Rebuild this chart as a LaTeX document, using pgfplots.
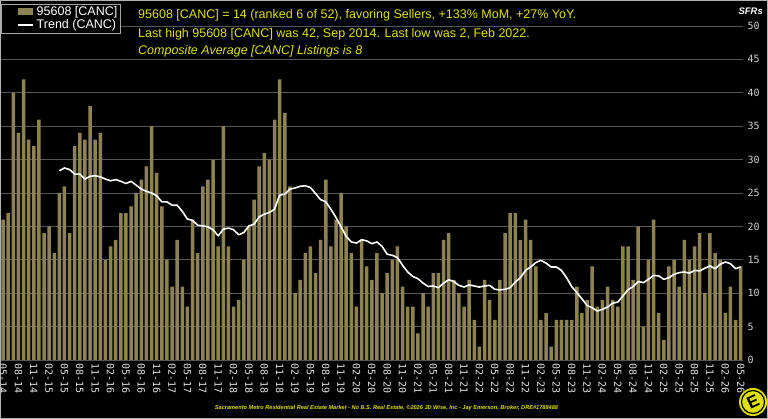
\documentclass[border=0pt]{standalone}
\usepackage{fontspec}
\setmainfont{Liberation Sans}
\setmonofont{DejaVu Sans Mono}
\usepackage{pgfplots}
\pgfplotsset{compat=1.18}
\definecolor{barcol}{RGB}{140,130,82}
\definecolor{ttl}{RGB}{225,225,0}
\definecolor{gridc}{RGB}{85,85,85}
\begin{document}
\begin{tikzpicture}[x=1pt,y=1pt]
\fill[black] (0,0) rectangle (768,419);
\begin{axis}[
  at={(0pt,59pt)}, anchor=south west,
  scale only axis, width=743pt, height=334pt,
  xmin=0.41, xmax=145.45, ymin=0, ymax=50,
  axis line style={draw=none},
  major tick length=0pt,
  ymajorgrids, grid style={gridc, line width=0.9pt},
  ytick={0,5,...,50},
  yticklabel pos=right,
  /pgf/number format/assume math mode=true,
  yticklabel style={font=\ttfamily\fontsize{10}{10}\selectfont, text=gray!35, xshift=1pt},
  xtick={1,4,...,145},
  xticklabels={05-14,08-14,11-14,02-15,05-15,08-15,11-15,02-16,05-16,08-16,11-16,02-17,05-17,08-17,11-17,02-18,05-18,08-18,11-18,02-19,05-19,08-19,11-19,02-20,05-20,08-20,11-20,02-21,05-21,08-21,11-21,02-22,05-22,08-22,11-22,02-23,05-23,08-23,11-23,02-24,05-24,08-24,11-24,02-25,05-25,08-25,11-25,02-26,05-26},
  xticklabel style={rotate=-90, anchor=west, font=\ttfamily\fontsize{10}{10}\selectfont, text=white!90!black},
  legend style={at={(axis description cs:0.0013,1.0659)}, anchor=north west, fill=black, draw=gray!70, text=white, font=\fontsize{12.5}{13}\selectfont, inner xsep=1pt, inner ysep=0.5pt, row sep=-1.5pt, cells={anchor=west}, column sep=1pt},
  clip=false,
]
\addplot[ybar, bar width=3.5pt, fill=barcol, draw=none,
  legend image code/.code={\path (0pt,0pt); \fill[barcol] (15pt,-3pt) rectangle (30pt,4pt);}]
coordinates {
(1,21)(2,22)(3,40)(4,34)(5,42)(6,33)(7,32)(8,36)(9,19)(10,20)(11,16)(12,25)(13,26)(14,19)(15,32)(16,34)(17,33)(18,38)(19,33)(20,34)(21,15)(22,17)(23,18)(24,22)(25,22)(26,23)(27,25)(28,27)(29,29)
(30,35)(31,28)(32,23)(33,15)(34,11)(35,18)(36,11)(37,8)(38,21)(39,16)(40,26)(41,27)(42,30)(43,17)(44,35)(45,17)(46,8)(47,9)(48,15)(49,20)(50,24)(51,29)(52,31)(53,30)(54,36)(55,42)(56,37)(57,26)(58,10)
(59,12)(60,16)(61,17)(62,13)(63,18)(64,27)(65,17)(66,21)(67,25)(68,20)(69,16)(70,8)(71,18)(72,14)(73,12)(74,16)(75,10)(76,13)(77,15)(78,17)(79,11)(80,8)(81,8)(82,4)(83,10)(84,8)(85,13)(86,13)
(87,18)(88,19)(89,12)(90,10)(91,8)(92,12)(93,6)(94,2)(95,12)(96,9)(97,6)(98,12)(99,19)(100,22)(101,22)(102,18)(103,21)(104,18)(105,14)(106,6)(107,7)(108,2)(109,6)(110,6)(111,6)(112,6)(113,11)
(114,7)(115,9)(116,14)(117,8)(118,9)(119,11)(120,9)(121,8)(122,17)(123,17)(124,12)(125,20)(126,5)(127,15)(128,21)(129,7)(130,3)(131,14)(132,15)(133,11)(134,18)(135,15)(136,17)(137,19)(138,10)(139,19)(140,16)(141,15)(142,7)(143,11)(144,6)(145,14)
};
\addlegendentry{95608 [CANC]}
\addplot[white, line width=1.6pt, line join=round,
  legend image code/.code={\path (0pt,0pt); \draw[white, line width=1.5pt] (15pt,0pt) -- (30pt,0pt);}]
coordinates {
(12,28.33)(13,28.75)(14,28.50)(15,27.83)(16,27.83)(17,27.08)(18,27.50)(19,27.58)(20,27.42)(21,27.08)(22,26.83)(23,27.00)(24,26.75)(25,26.42)(26,26.75)(27,26.17)(28,25.58)(29,25.25)(30,25.00)(31,24.58)(32,23.67)(33,23.67)(34,23.17)(35,23.17)(36,22.25)(37,21.08)(38,20.92)(39,20.17)(40,20.08)(41,19.92)(42,19.50)(43,18.58)(44,19.58)(45,19.75)(46,19.50)(47,18.75)(48,19.08)(49,20.08)(50,20.33)(51,21.42)(52,21.83)(53,22.08)(54,22.58)(55,24.67)(56,24.83)(57,25.58)(58,25.75)(59,26.00)(60,26.08)(61,25.83)(62,24.92)(63,24.00)(64,23.67)(65,22.58)(66,21.33)(67,19.92)(68,18.50)(69,17.67)(70,17.50)(71,18.00)(72,17.83)(73,17.42)(74,17.67)(75,17.00)(76,15.83)(77,15.67)(78,15.33)(79,14.17)(80,13.17)(81,12.50)(82,12.17)(83,11.50)(84,11.00)(85,11.08)(86,10.83)(87,11.50)(88,12.00)(89,11.75)(90,11.17)(91,10.92)(92,11.25)(93,11.08)(94,10.92)(95,11.08)(96,11.17)(97,10.58)(98,10.50)(99,10.58)(100,10.83)(101,11.67)(102,12.33)(103,13.42)(104,13.92)(105,14.58)(106,14.92)(107,14.50)(108,13.92)(109,13.92)(110,13.42)(111,12.33)(112,11.00)(113,10.08)(114,9.17)(115,8.17)(116,7.83)(117,7.33)(118,7.58)(119,7.92)(120,8.50)(121,8.67)(122,9.58)(123,10.50)(124,11.00)(125,11.75)(126,11.58)(127,12.08)(128,12.67)(129,12.58)(130,12.08)(131,12.33)(132,12.83)(133,13.08)(134,13.17)(135,13.00)(136,13.42)(137,13.33)(138,13.75)(139,14.08)(140,13.67)(141,14.33)(142,14.67)(143,14.42)(144,13.67)(145,13.92)
};
\addlegendentry{Trend (CANC)}
\end{axis}
\node[anchor=base west, text=ttl, font=\fontsize{12.5}{13}\selectfont, inner sep=0pt] at (138,400.7) {95608 [CANC] = 14 (ranked 6 of 52), favoring Sellers, +133\% MoM, +27\% YoY.};
\node[anchor=base west, text=ttl, font=\fontsize{12.5}{13}\selectfont, inner sep=0pt] at (138,381.7) {Last high 95608 [CANC] was 42, Sep 2014. Last low was 2, Feb 2022.};
\node[anchor=base west, text=ttl, font=\fontsize{12.5}{13}\selectfont\itshape, inner sep=0pt] at (138,364.7) {Composite Average [CANC] Listings is 8};
\node[anchor=base east, text=white, font=\fontsize{9.5}{10}\selectfont\bfseries\itshape, inner sep=0pt] at (763,404) {SFRs};
\node[anchor=base, text=ttl, font=\fontsize{5.6}{6}\selectfont\bfseries\itshape, inner sep=0pt] at (386.5,9) {Sacramento Metro Residential Real Estate Market - No B.S. Real Estate, \textcopyright 2026 JD Wise, Inc - Jay Emerson, Broker, DRE\#1788488};
\fill[ttl] (753,17) circle (14);
\draw[black, line width=1.2pt] (753,17) circle (11.5);
\node[text=black, font=\fontsize{17}{17}\selectfont\bfseries, rotate=25, inner sep=0pt] at (753,17) {E};
\draw[gray!60, line width=1pt] (0.5,0.5) rectangle (767.5,418.5);
\pgfresetboundingbox
\path[use as bounding box] (0,0) rectangle (768,419);
\end{tikzpicture}
\end{document}
